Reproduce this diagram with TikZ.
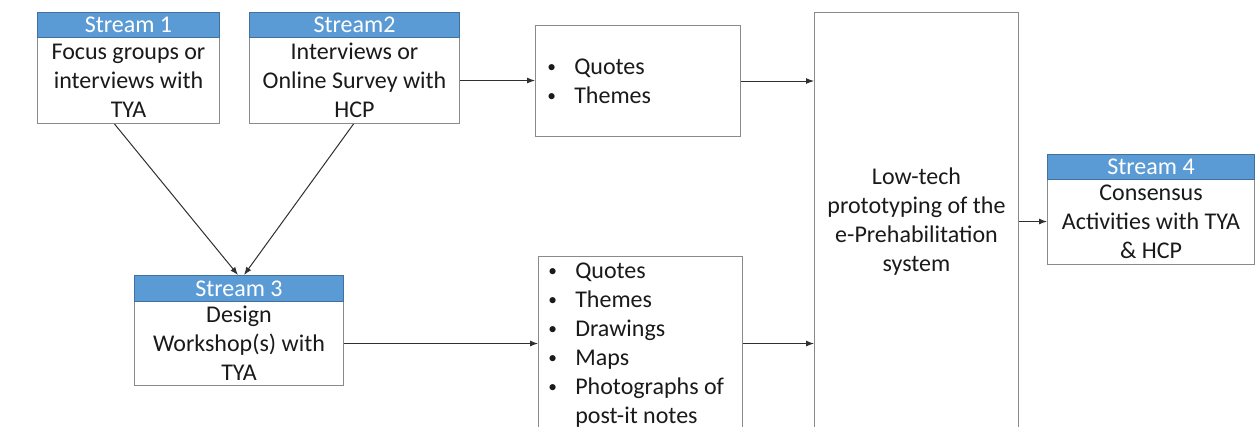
\documentclass[tikz,border=0pt]{standalone}
\usepackage{fontspec}
\setmainfont{Carlito}
\usetikzlibrary{arrows.meta,calc}
\definecolor{hdr}{HTML}{5B9BD5}
\definecolor{hdrline}{HTML}{41719C}
\definecolor{boxline}{HTML}{8A8A8A}
\definecolor{txt}{HTML}{1A1A1A}
\definecolor{arrline}{HTML}{303030}
\newcommand{\bul}{\makebox[20.25pt][l]{\raisebox{1.5pt}{\fontsize{13}{13}\selectfont\textbullet}}}
\newcommand{\nobul}{\makebox[20.25pt][l]{}}
\begin{document}
\begin{tikzpicture}[x=0.75pt,y=-0.75pt,
  base/.style={anchor=north west, inner sep=0pt, align=center,
    font=\fontsize{18}{21.75}\selectfont},
  hdrbox/.style={base, draw=hdrline, fill=hdr, text=white, line width=0.75pt},
  bodybox/.style={base, draw=boxline, fill=white, text=txt, line width=0.75pt},
  listtext/.style={anchor=west, inner sep=0pt, align=left, text=txt,
    font=\fontsize{18}{21.75}\selectfont},
  arr/.style={draw=arrline, line width=0.75pt, -{Latex[length=6pt,width=4.5pt]}}]
\clip (0,0) rectangle (1255,426);
\fill[white] (0,0) rectangle (1255,426);
% Stream 1
\node[bodybox, minimum width=136.5pt, minimum height=64.5pt] (s1) at (37,37)
  {Focus groups or\\interviews with\\TYA};
\node[hdrbox, minimum width=136.5pt, minimum height=18.75pt] (s1h) at (37,12) {Stream 1};
% Stream 2
\node[bodybox, minimum width=157.5pt, minimum height=64.5pt] (s2) at (249,37)
  {Interviews or\\Online Survey with\\HCP};
\node[hdrbox, minimum width=157.5pt, minimum height=18.75pt] (s2h) at (249,12) {Stream2};
% Quotes box
\node[bodybox, minimum width=153.75pt, minimum height=83.25pt] (q1) at (535,25) {};
\node[listtext] (l1) at (547,81.5)
  {\bul Quotes\\\bul Themes};
% Big box
\node[bodybox, minimum width=153pt, minimum height=313.5pt] (big) at (814,12)
  {Low-tech\\prototyping of the\\e-Prehabilitation\\system};
% Stream 4
\node[bodybox, minimum width=155.25pt, minimum height=63.75pt] (s4) at (1047,179)
  {Consensus\\Activities with TYA\\\& HCP};
\node[hdrbox, minimum width=155.25pt, minimum height=18.75pt] (s4h) at (1047,154) {Stream 4};
% Stream 3
\node[bodybox, minimum width=156.75pt, minimum height=63pt] (s3) at (134,301)
  {Design\\Workshop(s) with\\TYA};
\node[hdrbox, minimum width=156.75pt, minimum height=19.5pt] (s3h) at (134,275) {Stream 3};
% List box
\node[bodybox, minimum width=153pt, minimum height=131.25pt] (q2) at (538,256) {};
\node[listtext] (l2) at (548,345.5)
  {\bul Quotes\\
   \bul Themes\\
   \bul Drawings\\
   \bul Maps\\
   \bul Photographs of\\
   \nobul post-it notes};
% Connectors
\draw[arr] (s2.east) -- (s2.east -| q1.west);
\draw[arr] (q1.east) -- (q1.east -| big.west);
\draw[arr] ($(s1.south)+(-14,0)$) -- ($(s3h.north)+(-1,0)$);
\draw[arr] ($(s2.south)+(-1,0)$) -- ($(s3h.north)+(5,0)$);
\draw[arr] (s3.east) -- (s3.east -| q2.west);
\draw[arr] (s3.east -| q2.east) -- (s3.east -| big.west);
\draw[arr] (big.east) -- (big.east -| s4.west);
\end{tikzpicture}
\end{document}
